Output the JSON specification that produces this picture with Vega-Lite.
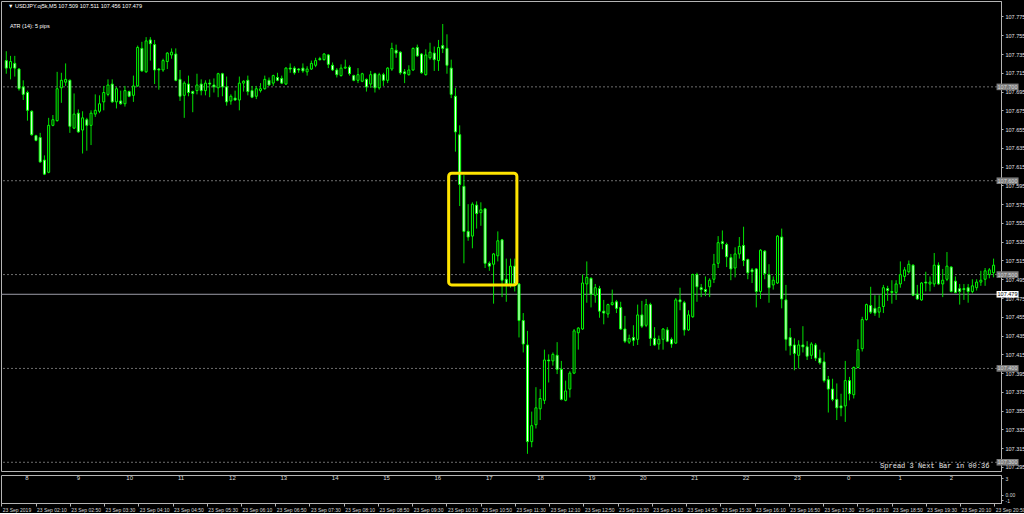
{
"$schema":"https://vega.github.io/schema/vega-lite/v6.json",
"background":"black",
"padding":0,
"spacing":2,
"resolve":{"scale":{"x":"independent","y":"independent"}},
"config":{"view":{"stroke":"#b4b4b4","strokeWidth":1},"font":"Liberation Sans","concat":{"spacing":2}},
"vconcat":[
{
"width":1000,"height":470,
"resolve":{"axis":{"y":"independent","x":"independent"}},
"data":{"values":[
{"t":"2019-09-23 01:30","o":107.728,"h":107.738,"l":107.714,"c":107.720},
{"t":"2019-09-23 01:35","o":107.720,"h":107.733,"l":107.708,"c":107.727},
{"t":"2019-09-23 01:40","o":107.725,"h":107.733,"l":107.711,"c":107.720},
{"t":"2019-09-23 01:45","o":107.719,"h":107.720,"l":107.696,"c":107.698},
{"t":"2019-09-23 01:50","o":107.700,"h":107.707,"l":107.686,"c":107.692},
{"t":"2019-09-23 01:55","o":107.694,"h":107.696,"l":107.664,"c":107.675},
{"t":"2019-09-23 02:00","o":107.674,"h":107.675,"l":107.648,"c":107.649},
{"t":"2019-09-23 02:05","o":107.648,"h":107.649,"l":107.642,"c":107.643},
{"t":"2019-09-23 02:10","o":107.646,"h":107.651,"l":107.619,"c":107.620},
{"t":"2019-09-23 02:15","o":107.622,"h":107.627,"l":107.606,"c":107.607},
{"t":"2019-09-23 02:20","o":107.609,"h":107.667,"l":107.608,"c":107.659},
{"t":"2019-09-23 02:25","o":107.659,"h":107.670,"l":107.658,"c":107.665},
{"t":"2019-09-23 02:30","o":107.664,"h":107.716,"l":107.663,"c":107.698},
{"t":"2019-09-23 02:35","o":107.699,"h":107.715,"l":107.683,"c":107.707},
{"t":"2019-09-23 02:40","o":107.705,"h":107.725,"l":107.701,"c":107.708},
{"t":"2019-09-23 02:45","o":107.707,"h":107.708,"l":107.651,"c":107.658},
{"t":"2019-09-23 02:50","o":107.656,"h":107.693,"l":107.655,"c":107.671},
{"t":"2019-09-23 02:55","o":107.672,"h":107.676,"l":107.651,"c":107.652},
{"t":"2019-09-23 03:00","o":107.654,"h":107.674,"l":107.629,"c":107.667},
{"t":"2019-09-23 03:05","o":107.665,"h":107.667,"l":107.632,"c":107.659},
{"t":"2019-09-23 03:10","o":107.659,"h":107.675,"l":107.638,"c":107.672},
{"t":"2019-09-23 03:15","o":107.671,"h":107.692,"l":107.668,"c":107.675},
{"t":"2019-09-23 03:20","o":107.674,"h":107.691,"l":107.672,"c":107.682},
{"t":"2019-09-23 03:25","o":107.684,"h":107.701,"l":107.675,"c":107.694},
{"t":"2019-09-23 03:30","o":107.692,"h":107.708,"l":107.690,"c":107.702},
{"t":"2019-09-23 03:35","o":107.703,"h":107.708,"l":107.683,"c":107.684},
{"t":"2019-09-23 03:40","o":107.684,"h":107.700,"l":107.677,"c":107.698},
{"t":"2019-09-23 03:45","o":107.685,"h":107.696,"l":107.681,"c":107.682},
{"t":"2019-09-23 03:50","o":107.682,"h":107.701,"l":107.679,"c":107.696},
{"t":"2019-09-23 03:55","o":107.695,"h":107.696,"l":107.689,"c":107.690},
{"t":"2019-09-23 04:00","o":107.691,"h":107.712,"l":107.684,"c":107.701},
{"t":"2019-09-23 04:05","o":107.701,"h":107.744,"l":107.700,"c":107.742},
{"t":"2019-09-23 04:10","o":107.741,"h":107.748,"l":107.716,"c":107.717},
{"t":"2019-09-23 04:15","o":107.716,"h":107.753,"l":107.715,"c":107.749},
{"t":"2019-09-23 04:20","o":107.750,"h":107.753,"l":107.728,"c":107.746},
{"t":"2019-09-23 04:25","o":107.745,"h":107.750,"l":107.703,"c":107.718},
{"t":"2019-09-23 04:30","o":107.719,"h":107.720,"l":107.697,"c":107.718},
{"t":"2019-09-23 04:35","o":107.718,"h":107.730,"l":107.716,"c":107.728},
{"t":"2019-09-23 04:40","o":107.727,"h":107.737,"l":107.719,"c":107.736},
{"t":"2019-09-23 04:45","o":107.734,"h":107.741,"l":107.730,"c":107.737},
{"t":"2019-09-23 04:50","o":107.735,"h":107.741,"l":107.706,"c":107.707},
{"t":"2019-09-23 04:55","o":107.708,"h":107.718,"l":107.685,"c":107.690},
{"t":"2019-09-23 05:00","o":107.691,"h":107.706,"l":107.667,"c":107.704},
{"t":"2019-09-23 05:05","o":107.703,"h":107.712,"l":107.690,"c":107.694},
{"t":"2019-09-23 05:10","o":107.695,"h":107.696,"l":107.673,"c":107.693},
{"t":"2019-09-23 05:15","o":107.696,"h":107.714,"l":107.692,"c":107.702},
{"t":"2019-09-23 05:20","o":107.703,"h":107.708,"l":107.691,"c":107.696},
{"t":"2019-09-23 05:25","o":107.696,"h":107.707,"l":107.691,"c":107.704},
{"t":"2019-09-23 05:30","o":107.704,"h":107.708,"l":107.689,"c":107.703},
{"t":"2019-09-23 05:35","o":107.702,"h":107.709,"l":107.694,"c":107.700},
{"t":"2019-09-23 05:40","o":107.699,"h":107.715,"l":107.689,"c":107.714},
{"t":"2019-09-23 05:45","o":107.714,"h":107.715,"l":107.690,"c":107.700},
{"t":"2019-09-23 05:50","o":107.700,"h":107.711,"l":107.680,"c":107.684},
{"t":"2019-09-23 05:55","o":107.685,"h":107.692,"l":107.681,"c":107.690},
{"t":"2019-09-23 06:00","o":107.688,"h":107.696,"l":107.685,"c":107.686},
{"t":"2019-09-23 06:05","o":107.686,"h":107.711,"l":107.675,"c":107.704},
{"t":"2019-09-23 06:10","o":107.704,"h":107.707,"l":107.695,"c":107.706},
{"t":"2019-09-23 06:15","o":107.707,"h":107.712,"l":107.691,"c":107.695},
{"t":"2019-09-23 06:20","o":107.696,"h":107.701,"l":107.688,"c":107.689},
{"t":"2019-09-23 06:25","o":107.690,"h":107.701,"l":107.687,"c":107.698},
{"t":"2019-09-23 06:30","o":107.696,"h":107.704,"l":107.694,"c":107.698},
{"t":"2019-09-23 06:35","o":107.698,"h":107.712,"l":107.697,"c":107.708},
{"t":"2019-09-23 06:40","o":107.707,"h":107.710,"l":107.701,"c":107.702},
{"t":"2019-09-23 06:45","o":107.704,"h":107.713,"l":107.701,"c":107.712},
{"t":"2019-09-23 06:50","o":107.710,"h":107.715,"l":107.706,"c":107.707},
{"t":"2019-09-23 06:55","o":107.709,"h":107.712,"l":107.703,"c":107.704},
{"t":"2019-09-23 07:00","o":107.703,"h":107.721,"l":107.702,"c":107.720},
{"t":"2019-09-23 07:05","o":107.720,"h":107.725,"l":107.715,"c":107.719},
{"t":"2019-09-23 07:10","o":107.720,"h":107.722,"l":107.713,"c":107.715},
{"t":"2019-09-23 07:15","o":107.719,"h":107.720,"l":107.715,"c":107.718},
{"t":"2019-09-23 07:20","o":107.720,"h":107.725,"l":107.715,"c":107.717},
{"t":"2019-09-23 07:25","o":107.716,"h":107.722,"l":107.712,"c":107.719},
{"t":"2019-09-23 07:30","o":107.719,"h":107.728,"l":107.718,"c":107.725},
{"t":"2019-09-23 07:35","o":107.723,"h":107.731,"l":107.721,"c":107.728},
{"t":"2019-09-23 07:40","o":107.730,"h":107.732,"l":107.728,"c":107.729},
{"t":"2019-09-23 07:45","o":107.729,"h":107.736,"l":107.728,"c":107.735},
{"t":"2019-09-23 07:50","o":107.734,"h":107.735,"l":107.720,"c":107.724},
{"t":"2019-09-23 07:55","o":107.723,"h":107.726,"l":107.717,"c":107.718},
{"t":"2019-09-23 08:00","o":107.718,"h":107.720,"l":107.710,"c":107.713},
{"t":"2019-09-23 08:05","o":107.712,"h":107.724,"l":107.711,"c":107.720},
{"t":"2019-09-23 08:10","o":107.720,"h":107.729,"l":107.719,"c":107.721},
{"t":"2019-09-23 08:15","o":107.721,"h":107.723,"l":107.712,"c":107.714},
{"t":"2019-09-23 08:20","o":107.712,"h":107.713,"l":107.706,"c":107.707},
{"t":"2019-09-23 08:25","o":107.707,"h":107.720,"l":107.704,"c":107.713},
{"t":"2019-09-23 08:30","o":107.706,"h":107.715,"l":107.705,"c":107.714},
{"t":"2019-09-23 08:35","o":107.708,"h":107.709,"l":107.695,"c":107.700},
{"t":"2019-09-23 08:40","o":107.703,"h":107.717,"l":107.699,"c":107.713},
{"t":"2019-09-23 08:45","o":107.714,"h":107.715,"l":107.694,"c":107.699},
{"t":"2019-09-23 08:50","o":107.699,"h":107.715,"l":107.697,"c":107.713},
{"t":"2019-09-23 08:55","o":107.713,"h":107.715,"l":107.701,"c":107.707},
{"t":"2019-09-23 09:00","o":107.707,"h":107.721,"l":107.704,"c":107.720},
{"t":"2019-09-23 09:05","o":107.719,"h":107.747,"l":107.717,"c":107.741},
{"t":"2019-09-23 09:10","o":107.739,"h":107.745,"l":107.731,"c":107.736},
{"t":"2019-09-23 09:15","o":107.737,"h":107.738,"l":107.713,"c":107.715},
{"t":"2019-09-23 09:20","o":107.716,"h":107.719,"l":107.704,"c":107.714},
{"t":"2019-09-23 09:25","o":107.713,"h":107.723,"l":107.712,"c":107.718},
{"t":"2019-09-23 09:30","o":107.718,"h":107.742,"l":107.717,"c":107.741},
{"t":"2019-09-23 09:35","o":107.742,"h":107.745,"l":107.732,"c":107.733},
{"t":"2019-09-23 09:40","o":107.735,"h":107.736,"l":107.714,"c":107.715},
{"t":"2019-09-23 09:45","o":107.713,"h":107.740,"l":107.712,"c":107.734},
{"t":"2019-09-23 09:50","o":107.731,"h":107.747,"l":107.729,"c":107.737},
{"t":"2019-09-23 09:55","o":107.736,"h":107.743,"l":107.717,"c":107.729},
{"t":"2019-09-23 10:00","o":107.728,"h":107.750,"l":107.717,"c":107.742},
{"t":"2019-09-23 10:05","o":107.744,"h":107.767,"l":107.736,"c":107.741},
{"t":"2019-09-23 10:10","o":107.741,"h":107.756,"l":107.714,"c":107.723},
{"t":"2019-09-23 10:15","o":107.720,"h":107.729,"l":107.688,"c":107.692},
{"t":"2019-09-23 10:20","o":107.690,"h":107.699,"l":107.631,"c":107.652},
{"t":"2019-09-23 10:25","o":107.649,"h":107.659,"l":107.573,"c":107.596},
{"t":"2019-09-23 10:30","o":107.594,"h":107.606,"l":107.512,"c":107.546},
{"t":"2019-09-23 10:35","o":107.546,"h":107.575,"l":107.536,"c":107.540},
{"t":"2019-09-23 10:40","o":107.541,"h":107.577,"l":107.528,"c":107.575},
{"t":"2019-09-23 10:45","o":107.574,"h":107.578,"l":107.549,"c":107.565},
{"t":"2019-09-23 10:50","o":107.566,"h":107.577,"l":107.552,"c":107.569},
{"t":"2019-09-23 10:55","o":107.570,"h":107.571,"l":107.507,"c":107.512},
{"t":"2019-09-23 11:00","o":107.512,"h":107.514,"l":107.504,"c":107.509},
{"t":"2019-09-23 11:05","o":107.511,"h":107.523,"l":107.469,"c":107.522},
{"t":"2019-09-23 11:10","o":107.520,"h":107.546,"l":107.514,"c":107.536},
{"t":"2019-09-23 11:15","o":107.537,"h":107.538,"l":107.476,"c":107.494},
{"t":"2019-09-23 11:20","o":107.495,"h":107.517,"l":107.471,"c":107.490},
{"t":"2019-09-23 11:25","o":107.490,"h":107.517,"l":107.486,"c":107.509},
{"t":"2019-09-23 11:30","o":107.509,"h":107.517,"l":107.482,"c":107.490},
{"t":"2019-09-23 11:35","o":107.490,"h":107.491,"l":107.433,"c":107.451},
{"t":"2019-09-23 11:40","o":107.451,"h":107.459,"l":107.417,"c":107.426},
{"t":"2019-09-23 11:45","o":107.425,"h":107.440,"l":107.309,"c":107.322},
{"t":"2019-09-23 11:50","o":107.322,"h":107.354,"l":107.316,"c":107.339},
{"t":"2019-09-23 11:55","o":107.340,"h":107.380,"l":107.336,"c":107.358},
{"t":"2019-09-23 12:00","o":107.357,"h":107.378,"l":107.345,"c":107.368},
{"t":"2019-09-23 12:05","o":107.366,"h":107.420,"l":107.362,"c":107.409},
{"t":"2019-09-23 12:10","o":107.409,"h":107.415,"l":107.385,"c":107.408},
{"t":"2019-09-23 12:15","o":107.408,"h":107.417,"l":107.403,"c":107.415},
{"t":"2019-09-23 12:20","o":107.414,"h":107.428,"l":107.394,"c":107.399},
{"t":"2019-09-23 12:25","o":107.399,"h":107.408,"l":107.366,"c":107.367},
{"t":"2019-09-23 12:30","o":107.366,"h":107.387,"l":107.365,"c":107.376},
{"t":"2019-09-23 12:35","o":107.378,"h":107.397,"l":107.369,"c":107.395},
{"t":"2019-09-23 12:40","o":107.395,"h":107.442,"l":107.394,"c":107.440},
{"t":"2019-09-23 12:45","o":107.438,"h":107.444,"l":107.420,"c":107.443},
{"t":"2019-09-23 12:50","o":107.442,"h":107.500,"l":107.441,"c":107.491},
{"t":"2019-09-23 12:55","o":107.490,"h":107.514,"l":107.470,"c":107.497},
{"t":"2019-09-23 13:00","o":107.496,"h":107.497,"l":107.465,"c":107.479},
{"t":"2019-09-23 13:05","o":107.478,"h":107.490,"l":107.470,"c":107.486},
{"t":"2019-09-23 13:10","o":107.485,"h":107.488,"l":107.454,"c":107.461},
{"t":"2019-09-23 13:15","o":107.461,"h":107.473,"l":107.447,"c":107.459},
{"t":"2019-09-23 13:20","o":107.458,"h":107.469,"l":107.454,"c":107.468},
{"t":"2019-09-23 13:25","o":107.468,"h":107.484,"l":107.467,"c":107.470},
{"t":"2019-09-23 13:30","o":107.471,"h":107.473,"l":107.459,"c":107.464},
{"t":"2019-09-23 13:35","o":107.465,"h":107.471,"l":107.441,"c":107.442},
{"t":"2019-09-23 13:40","o":107.442,"h":107.456,"l":107.427,"c":107.429},
{"t":"2019-09-23 13:45","o":107.428,"h":107.436,"l":107.426,"c":107.432},
{"t":"2019-09-23 13:50","o":107.433,"h":107.446,"l":107.424,"c":107.430},
{"t":"2019-09-23 13:55","o":107.431,"h":107.468,"l":107.425,"c":107.457},
{"t":"2019-09-23 14:00","o":107.457,"h":107.472,"l":107.443,"c":107.445},
{"t":"2019-09-23 14:05","o":107.446,"h":107.474,"l":107.444,"c":107.468},
{"t":"2019-09-23 14:10","o":107.468,"h":107.470,"l":107.424,"c":107.432},
{"t":"2019-09-23 14:15","o":107.432,"h":107.444,"l":107.424,"c":107.425},
{"t":"2019-09-23 14:20","o":107.426,"h":107.435,"l":107.420,"c":107.431},
{"t":"2019-09-23 14:25","o":107.431,"h":107.443,"l":107.420,"c":107.442},
{"t":"2019-09-23 14:30","o":107.441,"h":107.444,"l":107.428,"c":107.429},
{"t":"2019-09-23 14:35","o":107.431,"h":107.433,"l":107.422,"c":107.426},
{"t":"2019-09-23 14:40","o":107.427,"h":107.475,"l":107.426,"c":107.473},
{"t":"2019-09-23 14:45","o":107.473,"h":107.486,"l":107.462,"c":107.471},
{"t":"2019-09-23 14:50","o":107.470,"h":107.472,"l":107.435,"c":107.441},
{"t":"2019-09-23 14:55","o":107.441,"h":107.462,"l":107.440,"c":107.457},
{"t":"2019-09-23 15:00","o":107.455,"h":107.501,"l":107.454,"c":107.500},
{"t":"2019-09-23 15:05","o":107.500,"h":107.502,"l":107.471,"c":107.487},
{"t":"2019-09-23 15:10","o":107.486,"h":107.490,"l":107.476,"c":107.484},
{"t":"2019-09-23 15:15","o":107.484,"h":107.498,"l":107.477,"c":107.482},
{"t":"2019-09-23 15:20","o":107.487,"h":107.496,"l":107.476,"c":107.494},
{"t":"2019-09-23 15:25","o":107.495,"h":107.522,"l":107.491,"c":107.511},
{"t":"2019-09-23 15:30","o":107.512,"h":107.541,"l":107.507,"c":107.534},
{"t":"2019-09-23 15:35","o":107.535,"h":107.547,"l":107.527,"c":107.533},
{"t":"2019-09-23 15:40","o":107.532,"h":107.534,"l":107.508,"c":107.519},
{"t":"2019-09-23 15:45","o":107.518,"h":107.522,"l":107.494,"c":107.506},
{"t":"2019-09-23 15:50","o":107.507,"h":107.529,"l":107.497,"c":107.522},
{"t":"2019-09-23 15:55","o":107.522,"h":107.540,"l":107.517,"c":107.530},
{"t":"2019-09-23 16:00","o":107.531,"h":107.551,"l":107.509,"c":107.515},
{"t":"2019-09-23 16:05","o":107.516,"h":107.517,"l":107.495,"c":107.502},
{"t":"2019-09-23 16:10","o":107.505,"h":107.507,"l":107.491,"c":107.503},
{"t":"2019-09-23 16:15","o":107.506,"h":107.507,"l":107.465,"c":107.482},
{"t":"2019-09-23 16:20","o":107.482,"h":107.527,"l":107.474,"c":107.526},
{"t":"2019-09-23 16:25","o":107.525,"h":107.526,"l":107.495,"c":107.501},
{"t":"2019-09-23 16:30","o":107.500,"h":107.511,"l":107.470,"c":107.486},
{"t":"2019-09-23 16:35","o":107.489,"h":107.498,"l":107.484,"c":107.494},
{"t":"2019-09-23 16:40","o":107.491,"h":107.542,"l":107.490,"c":107.541},
{"t":"2019-09-23 16:45","o":107.540,"h":107.549,"l":107.464,"c":107.474},
{"t":"2019-09-23 16:50","o":107.473,"h":107.489,"l":107.419,"c":107.431},
{"t":"2019-09-23 16:55","o":107.433,"h":107.443,"l":107.414,"c":107.424},
{"t":"2019-09-23 17:00","o":107.425,"h":107.432,"l":107.398,"c":107.416},
{"t":"2019-09-23 17:05","o":107.414,"h":107.430,"l":107.400,"c":107.425},
{"t":"2019-09-23 17:10","o":107.425,"h":107.445,"l":107.417,"c":107.423},
{"t":"2019-09-23 17:15","o":107.423,"h":107.429,"l":107.409,"c":107.413},
{"t":"2019-09-23 17:20","o":107.414,"h":107.428,"l":107.410,"c":107.426},
{"t":"2019-09-23 17:25","o":107.425,"h":107.427,"l":107.408,"c":107.411},
{"t":"2019-09-23 17:30","o":107.411,"h":107.420,"l":107.404,"c":107.406},
{"t":"2019-09-23 17:35","o":107.407,"h":107.417,"l":107.385,"c":107.387},
{"t":"2019-09-23 17:40","o":107.388,"h":107.392,"l":107.353,"c":107.378},
{"t":"2019-09-23 17:45","o":107.378,"h":107.389,"l":107.365,"c":107.367},
{"t":"2019-09-23 17:50","o":107.367,"h":107.384,"l":107.345,"c":107.358},
{"t":"2019-09-23 17:55","o":107.360,"h":107.373,"l":107.349,"c":107.358},
{"t":"2019-09-23 18:00","o":107.360,"h":107.408,"l":107.343,"c":107.387},
{"t":"2019-09-23 18:05","o":107.387,"h":107.391,"l":107.366,"c":107.373},
{"t":"2019-09-23 18:10","o":107.372,"h":107.402,"l":107.368,"c":107.401},
{"t":"2019-09-23 18:15","o":107.401,"h":107.431,"l":107.400,"c":107.420},
{"t":"2019-09-23 18:20","o":107.421,"h":107.455,"l":107.418,"c":107.452},
{"t":"2019-09-23 18:25","o":107.452,"h":107.469,"l":107.451,"c":107.468},
{"t":"2019-09-23 18:30","o":107.467,"h":107.487,"l":107.458,"c":107.460},
{"t":"2019-09-23 18:35","o":107.464,"h":107.478,"l":107.456,"c":107.459},
{"t":"2019-09-23 18:40","o":107.460,"h":107.478,"l":107.454,"c":107.465},
{"t":"2019-09-23 18:45","o":107.466,"h":107.489,"l":107.459,"c":107.486},
{"t":"2019-09-23 18:50","o":107.485,"h":107.488,"l":107.472,"c":107.483},
{"t":"2019-09-23 18:55","o":107.482,"h":107.494,"l":107.469,"c":107.481},
{"t":"2019-09-23 19:00","o":107.481,"h":107.494,"l":107.473,"c":107.490},
{"t":"2019-09-23 19:05","o":107.490,"h":107.514,"l":107.486,"c":107.500},
{"t":"2019-09-23 19:10","o":107.498,"h":107.508,"l":107.493,"c":107.505},
{"t":"2019-09-23 19:15","o":107.503,"h":107.515,"l":107.501,"c":107.511},
{"t":"2019-09-23 19:20","o":107.510,"h":107.511,"l":107.477,"c":107.478},
{"t":"2019-09-23 19:25","o":107.479,"h":107.489,"l":107.473,"c":107.474},
{"t":"2019-09-23 19:30","o":107.473,"h":107.492,"l":107.472,"c":107.491},
{"t":"2019-09-23 19:35","o":107.492,"h":107.503,"l":107.482,"c":107.491},
{"t":"2019-09-23 19:40","o":107.490,"h":107.498,"l":107.482,"c":107.492},
{"t":"2019-09-23 19:45","o":107.490,"h":107.523,"l":107.487,"c":107.510},
{"t":"2019-09-23 19:50","o":107.510,"h":107.513,"l":107.489,"c":107.490},
{"t":"2019-09-23 19:55","o":107.490,"h":107.506,"l":107.476,"c":107.494},
{"t":"2019-09-23 20:00","o":107.495,"h":107.524,"l":107.493,"c":107.509},
{"t":"2019-09-23 20:05","o":107.508,"h":107.509,"l":107.481,"c":107.482},
{"t":"2019-09-23 20:10","o":107.493,"h":107.498,"l":107.480,"c":107.481},
{"t":"2019-09-23 20:15","o":107.485,"h":107.490,"l":107.468,"c":107.482},
{"t":"2019-09-23 20:20","o":107.485,"h":107.490,"l":107.473,"c":107.484},
{"t":"2019-09-23 20:25","o":107.486,"h":107.490,"l":107.470,"c":107.482},
{"t":"2019-09-23 20:30","o":107.482,"h":107.495,"l":107.480,"c":107.488},
{"t":"2019-09-23 20:35","o":107.486,"h":107.495,"l":107.483,"c":107.492},
{"t":"2019-09-23 20:40","o":107.492,"h":107.504,"l":107.488,"c":107.494},
{"t":"2019-09-23 20:45","o":107.495,"h":107.507,"l":107.488,"c":107.504},
{"t":"2019-09-23 20:50","o":107.500,"h":107.507,"l":107.496,"c":107.505},
{"t":"2019-09-23 20:55","o":107.502,"h":107.517,"l":107.497,"c":107.510}
],"format":{"parse":{"t":"date:'%Y-%m-%d %H:%M'"}}},
"layer":[
{"data":{"values":[{"p":107.7},{"p":107.6},{"p":107.5},{"p":107.4},{"p":107.3}]},
 "mark":{"type":"rule","color":"#6e6e6e","strokeDash":[2,2],"strokeWidth":1},
 "encoding":{"y":{"field":"p","type":"quantitative","title":null,"scale":{"domain":[107.2907,107.7915],"nice":false,"zero":false},
   "axis":{"orient":"right","title":null,"values":[107.295,107.315,107.335,107.355,107.375,107.395,107.415,107.435,107.455,107.475,107.495,107.515,107.535,107.555,107.575,107.595,107.615,107.635,107.655,107.675,107.695,107.715,107.735,107.755,107.775],
   "format":".3f","grid":false,"labelFontSize":5.5,"labelColor":"#e0e0e0","tickColor":"#b4b4b4","tickSize":2,"domainColor":"#b4b4b4","labelPadding":2,"labelOverlap":false,"labelBound":false,"labelFlush":false,"labelSeparation":0}}}},
{"data":{"values":[{"p":107.479}]},
 "mark":{"type":"rule","color":"#9c9ca8","strokeWidth":1},
 "encoding":{"y":{"field":"p","type":"quantitative","axis":null}}},
{"mark":{"type":"rule","color":"#00e000","strokeWidth":1},
 "encoding":{"x":{"field":"t","type":"temporal","axis":null,"scale":{"domain":[{"year":2019,"month":9,"date":23,"hours":1,"minutes":29,"seconds":39},{"year":2019,"month":9,"date":23,"hours":20,"minutes":57,"seconds":52}]}},
  "y":{"field":"l","type":"quantitative","axis":null},"y2":{"field":"h"}}},
{"mark":{"type":"bar","size":2,"stroke":"#00ff00","strokeWidth":1},
 "encoding":{"x":{"field":"t","type":"temporal","axis":null},
  "y":{"field":"o","type":"quantitative","axis":null},"y2":{"field":"c"},
  "fill":{"condition":{"test":"datum.c < datum.o","value":"#ffffff"},"value":"#000000"}}},
{"data":{"values":[{}]},
 "mark":{"type":"rect","fillOpacity":0,"stroke":"#ffe400","strokeWidth":3,"cornerRadius":3},
 "encoding":{"x":{"datum":{"year":2019,"month":9,"date":23,"hours":10,"minutes":12},"type":"temporal","axis":null},
  "x2":{"datum":{"year":2019,"month":9,"date":23,"hours":11,"minutes":32,"seconds":30}},
  "y":{"datum":107.608,"type":"quantitative","axis":null},"y2":{"datum":107.489}}},
{"data":{"values":[{"p":107.7,"s":"107.700","k":"h"},{"p":107.6,"s":"107.600","k":"h"},{"p":107.5,"s":"107.500","k":"h"},{"p":107.4,"s":"107.400","k":"h"},{"p":107.3,"s":"107.300","k":"h"},{"p":107.479,"s":"107.479","k":"b"}]},
 "mark":{"type":"point","shape":"M0.05,-0.3H2.05V0.3H0.05Z","size":484,"filled":true,"opacity":1,"strokeWidth":0},
 "encoding":{"x":{"datum":{"year":2019,"month":9,"date":23,"hours":20,"minutes":57,"seconds":52},"type":"temporal","axis":null},
  "y":{"field":"p","type":"quantitative","axis":null},
  "fill":{"condition":{"test":"datum.k=='b'","value":"#ffffff"},"value":"#7c7c7c"}}},
{"data":{"values":[{"p":107.7,"s":"107.700","k":"h"},{"p":107.6,"s":"107.600","k":"h"},{"p":107.5,"s":"107.500","k":"h"},{"p":107.4,"s":"107.400","k":"h"},{"p":107.3,"s":"107.300","k":"h"},{"p":107.479,"s":"107.479","k":"b"}]},
 "mark":{"type":"text","dx":11.5,"align":"center","baseline":"middle","fontSize":5.5},
 "encoding":{"x":{"datum":{"year":2019,"month":9,"date":23,"hours":20,"minutes":57,"seconds":52},"type":"temporal","axis":null},
  "y":{"field":"p","type":"quantitative","axis":null},"text":{"field":"s"},
  "color":{"condition":{"test":"datum.k=='b'","value":"#000000"},"value":"#d8d8d8"}}},
{"data":{"values":[{}]},
 "mark":{"type":"text","align":"left","baseline":"middle","fontSize":5.5,"color":"#ffffff","dx":2},
 "encoding":{"x":{"datum":{"year":2019,"month":9,"date":23,"hours":1,"minutes":29,"seconds":39},"type":"temporal","axis":null},
  "y":{"datum":107.7858,"type":"quantitative","axis":null},
  "text":{"value":"▼ USDJPY.oj5k,M5  107.509 107.511 107.456 107.479"}}},
{"data":{"values":[{}]},
 "mark":{"type":"text","align":"left","baseline":"middle","fontSize":5.5,"color":"#ffffff","dx":4},
 "encoding":{"x":{"datum":{"year":2019,"month":9,"date":23,"hours":1,"minutes":29,"seconds":39},"type":"temporal","axis":null},
  "y":{"datum":107.765,"type":"quantitative","axis":null},
  "text":{"value":"ATR (14): 5 pips"}}},
{"data":{"values":[{}]},
 "mark":{"type":"text","align":"right","baseline":"middle","fontSize":7,"font":"Liberation Mono","color":"#e8e8e8"},
 "encoding":{"x":{"datum":{"year":2019,"month":9,"date":23,"hours":20,"minutes":50},"type":"temporal","axis":null},
  "y":{"datum":107.2955,"type":"quantitative","axis":null},
  "text":{"value":"Spread  3   Next Bar in 00:36"}}}
]
},
{
"width":1000,"height":28,
"data":{"values":[
{"t":"2019-09-23 02:00","lab":"8"},{"t":"2019-09-23 03:00","lab":"9"},{"t":"2019-09-23 04:00","lab":"10"},{"t":"2019-09-23 05:00","lab":"11"},
{"t":"2019-09-23 06:00","lab":"12"},{"t":"2019-09-23 07:00","lab":"13"},{"t":"2019-09-23 08:00","lab":"14"},{"t":"2019-09-23 09:00","lab":"15"},
{"t":"2019-09-23 10:00","lab":"16"},{"t":"2019-09-23 11:00","lab":"17"},{"t":"2019-09-23 12:00","lab":"18"},{"t":"2019-09-23 13:00","lab":"19"},
{"t":"2019-09-23 14:00","lab":"20"},{"t":"2019-09-23 15:00","lab":"21"},{"t":"2019-09-23 16:00","lab":"22"},{"t":"2019-09-23 17:00","lab":"23"},
{"t":"2019-09-23 18:00","lab":"0"},{"t":"2019-09-23 19:00","lab":"1"},{"t":"2019-09-23 20:00","lab":"2"}
],"format":{"parse":{"t":"date:'%Y-%m-%d %H:%M'"}}},
"mark":{"type":"text","fontSize":6,"color":"#d8d8d8","align":"center","baseline":"middle"},
"encoding":{
 "x":{"field":"t","type":"temporal","scale":{"domain":[{"year":2019,"month":9,"date":23,"hours":1,"minutes":29,"seconds":39},{"year":2019,"month":9,"date":23,"hours":20,"minutes":57,"seconds":52}]},
  "axis":{"orient":"bottom","title":null,"grid":false,"labelFontSize":5,"labelColor":"#d8d8d8","tickColor":"#b4b4b4","domainColor":"#b4b4b4","tickSize":3,"labelPadding":1,"labelAlign":"left","labelOffset":1,"labelOverlap":false,"labelFlush":false,"labelBound":false,
   "values":[{"year":2019,"month":9,"date":23,"hours":1,"minutes":30},{"year":2019,"month":9,"date":23,"hours":2,"minutes":10},{"year":2019,"month":9,"date":23,"hours":2,"minutes":50},{"year":2019,"month":9,"date":23,"hours":3,"minutes":30},{"year":2019,"month":9,"date":23,"hours":4,"minutes":10},{"year":2019,"month":9,"date":23,"hours":4,"minutes":50},{"year":2019,"month":9,"date":23,"hours":5,"minutes":30},{"year":2019,"month":9,"date":23,"hours":6,"minutes":10},{"year":2019,"month":9,"date":23,"hours":6,"minutes":50},{"year":2019,"month":9,"date":23,"hours":7,"minutes":30},{"year":2019,"month":9,"date":23,"hours":8,"minutes":10},{"year":2019,"month":9,"date":23,"hours":8,"minutes":50},{"year":2019,"month":9,"date":23,"hours":9,"minutes":30},{"year":2019,"month":9,"date":23,"hours":10,"minutes":10},{"year":2019,"month":9,"date":23,"hours":10,"minutes":50},{"year":2019,"month":9,"date":23,"hours":11,"minutes":30},{"year":2019,"month":9,"date":23,"hours":12,"minutes":10},{"year":2019,"month":9,"date":23,"hours":12,"minutes":50},{"year":2019,"month":9,"date":23,"hours":13,"minutes":30},{"year":2019,"month":9,"date":23,"hours":14,"minutes":10},{"year":2019,"month":9,"date":23,"hours":14,"minutes":50},{"year":2019,"month":9,"date":23,"hours":15,"minutes":30},{"year":2019,"month":9,"date":23,"hours":16,"minutes":10},{"year":2019,"month":9,"date":23,"hours":16,"minutes":50},{"year":2019,"month":9,"date":23,"hours":17,"minutes":30},{"year":2019,"month":9,"date":23,"hours":18,"minutes":10},{"year":2019,"month":9,"date":23,"hours":18,"minutes":50},{"year":2019,"month":9,"date":23,"hours":19,"minutes":30},{"year":2019,"month":9,"date":23,"hours":20,"minutes":10},{"year":2019,"month":9,"date":23,"hours":20,"minutes":50}],
   "labelExpr":"hours(datum.value)==1 ? '23 Sep 2019' : timeFormat(datum.value, '%d %b %H:%M')"}},
 "y":{"datum":3,"type":"quantitative","scale":{"domain":[-1.45,3.55],"nice":false,"zero":false},
  "axis":{"orient":"right","title":null,"grid":false,"values":[3,0,-1],"labelExpr":"datum.value==0 ? '0.00' : ''+datum.value","labelFontSize":5,"labelColor":"#d8d8d8","tickColor":"#b4b4b4","domainColor":"#b4b4b4","tickSize":2,"labelPadding":2,"labelOverlap":false,"labelBound":false,"labelFlush":false}},
 "text":{"field":"lab"}}
}
]
}
